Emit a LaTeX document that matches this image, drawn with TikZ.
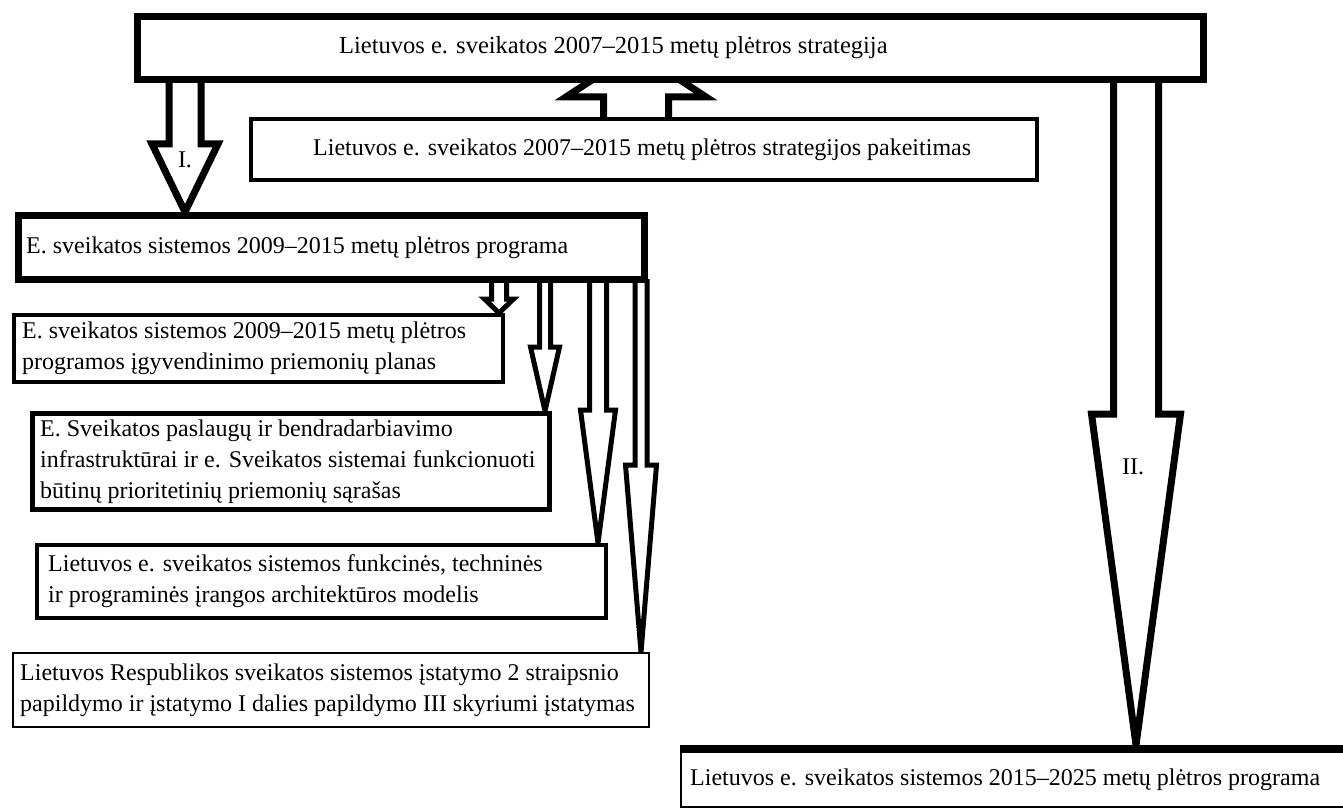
\documentclass[tikz,border=0pt]{standalone}
\usepackage{fontspec}
\setmainfont{Liberation Serif}
\usetikzlibrary{calc}
\pgfdeclarelayer{paper}
\pgfdeclarelayer{back}
\pgfsetlayers{paper,back,main}
% hollow block arrow pointing down from node #1 to node #2
% #3 axis x, #4 half shaft, #5 half head, #6 head length, #7 line width
\newcommand\hollowdown[7]{%
  \coordinate (ax) at (#3,0);
  \draw[line width=#7pt, fill=white, miter limit=20]
    ($(ax |- #1.south)+(-#4,-4)$) -- ($(ax |- #2.north)+(-#4,-#6)$)
    -- ($(ax |- #2.north)+(-#5,-#6)$) -- (ax |- #2.north)
    -- ($(ax |- #2.north)+(#5,-#6)$) -- ($(ax |- #2.north)+(#4,-#6)$)
    -- ($(ax |- #1.south)+(#4,-4)$);}
\begin{document}
\begin{tikzpicture}[x=1pt,y=-1pt,
  box/.style={draw, fill=white, anchor=north west, inner sep=0pt},
  txt/.style={anchor=west, align=left, inner sep=0pt, font=\fontsize{24}{31}\selectfont},
  lbl/.style={inner sep=0pt, font=\fontsize{24}{31}\selectfont}]
\begin{pgfonlayer}{paper}
  \fill[white] (0,0) rectangle (1343,810);
\end{pgfonlayer}
\useasboundingbox (0,0) rectangle (1343,810);

% boxes
\node[box, line width=7pt, minimum width=1066pt, minimum height=63pt] (strat) at (134,13) {};
\node[box, line width=4pt, minimum width=786pt, minimum height=61pt] (chg) at (249,117) {};
\node[box, line width=7pt, minimum width=626pt, minimum height=64pt] (prog) at (15,212) {};
\node[box, line width=4pt, minimum width=489pt, minimum height=67pt] (plan) at (12,313) {};
\node[box, line width=5pt, minimum width=517pt, minimum height=96pt] (svc) at (30,411) {};
\node[box, line width=4pt, minimum width=569pt, minimum height=73pt] (arch) at (35,543) {};
\node[box, line width=2pt, minimum width=636pt, minimum height=74pt] (law) at (12,652) {};
\node[box, line width=2pt, minimum width=672pt, minimum height=61pt] (new) at (680,745) {};
\draw[line width=8pt] ($(new.north west)+(0,4)$) -- ($(new.north east)+(0,4)$);

% texts
\node[txt, font=\fontsize{24.5}{31}\selectfont] (strat-t) at ($(strat.west)+(205,0)$) {Lietuvos e. sveikatos 2007--2015 metų plėtros strategija};
\node[txt] (chg-t) at ($(chg.west)+(64,0)$) {Lietuvos e. sveikatos 2007--2015 metų plėtros strategijos pakeitimas};
\node[txt] (prog-t) at ($(prog.west)+(11,0)$) {E. sveikatos sistemos 2009--2015 metų plėtros programa};
\node[txt] (plan-t) at ($(plan.west)+(10,0)$) {E. sveikatos sistemos 2009--2015 metų plėtros\\programos įgyvendinimo priemonių planas};
\node[txt] (svc-t) at ($(svc.west)+(10,0)$) {E. Sveikatos paslaugų ir bendradarbiavimo\\infrastruktūrai ir e. Sveikatos sistemai funkcionuoti\\būtinų prioritetinių priemonių sąrašas};
\node[txt] (arch-t) at ($(arch.west)+(13,0)$) {Lietuvos e. sveikatos sistemos funkcinės, techninės\\ir programinės įrangos architektūros modelis};
\node[txt] (law-t) at ($(law.west)+(8,0)$) {Lietuvos Respublikos sveikatos sistemos įstatymo 2 straipsnio\\papildymo ir įstatymo I dalies papildymo III skyriumi įstatymas};
\node[txt] (new-t) at ($(new.west)+(10,3)$) {Lietuvos e. sveikatos sistemos 2015--2025 metų plėtros programa};

% block arrows, drawn behind the boxes
\begin{pgfonlayer}{back}
  \hollowdown{strat}{prog}{185}{16}{33}{68}{7}
  \hollowdown{prog}{plan}{499}{7.5}{14.5}{14}{5}
  \hollowdown{prog}{svc}{545}{5.5}{14.5}{64}{5}
  \hollowdown{prog}{arch}{598}{8.5}{17.5}{133}{5}
  \hollowdown{prog}{law}{641}{6}{15.5}{187}{5}
  \hollowdown{strat}{new}{1136}{22.5}{44.5}{331}{7}
  % upward arrow from the amendment box into the strategy box
  \coordinate (ua) at (636,0);
  \draw[line width=7pt, fill=white, miter limit=20]
    ($(ua |- chg.north)+(-32.5,4)$) -- ($(ua |- strat.south)+(-32.5,14)$)
    -- ($(ua |- strat.south)+(-70,14)$) -- ($(ua |- strat.south)+(0,-32)$)
    -- ($(ua |- strat.south)+(70,14)$) -- ($(ua |- strat.south)+(32.5,14)$)
    -- ($(ua |- chg.north)+(32.5,4)$);
\end{pgfonlayer}

% arrow labels
\node[lbl] (lab1) at (185,160) {I.};
\node[lbl] (lab2) at (1133,467) {II.};
\end{tikzpicture}
\end{document}
